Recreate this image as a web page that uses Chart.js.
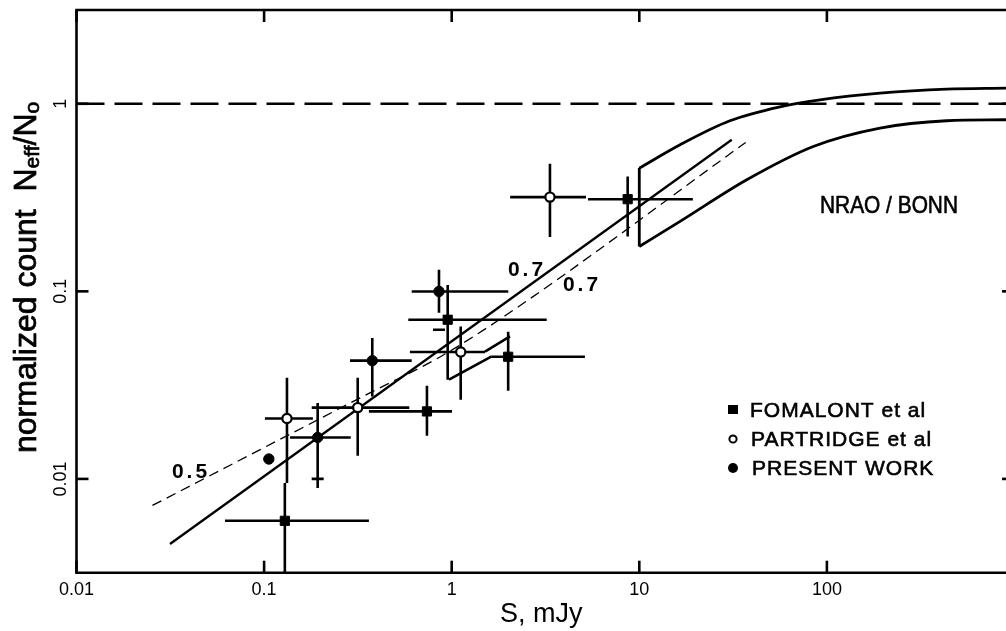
<!DOCTYPE html>
<html><head><meta charset="utf-8">
<script src="https://cdn.jsdelivr.net/npm/chart.js@4.4.1/dist/chart.umd.min.js"></script>
<style>html,body{margin:0;padding:0;background:#fff;overflow:hidden}#wrap{width:1006px;height:631px;position:relative}</style>
</head><body><div id="wrap"><canvas id="c" width="1006" height="631"></canvas></div>
<script>
// ---- tick values / labels ----
const xTickValues = [0.01, 0.1, 1, 10, 100];
const xTickLabels = ['0.01', '0.1', '1', '10', '100'];
const yTickValues = [0.01, 0.1, 1];
const yTickLabels = ['0.01', '0.1', '1'];

// ---- FOMALONT et al (filled squares) ----
const fomalontX   = [0.129, 0.738, 0.952, 2.0, 8.67];
const fomalontY   = [0.00598, 0.0229, 0.0706, 0.0448, 0.310];
const fomalontXLo = [0.0619, 0.362, 0.587, 1.63, 5.33];
const fomalontXHi = [0.362, 1.004, 3.21, 5.13, 19.3];
const fomalontYLo = [0.003, 0.0170, 0.0338, 0.0295, 0.196];
const fomalontYHi = [0.0095, 0.0314, 0.108, 0.0609, 0.410];

// ---- PARTRIDGE et al (open circles) ----
const partridgeX   = [0.1324, 0.3155, 1.117, 3.34];
const partridgeY   = [0.0210, 0.0240, 0.0475, 0.318];
const partridgeXLo = [0.101, 0.1794, 0.599, 2.05];
const partridgeXHi = [0.182, 0.594, 1.505, 5.20];
const partridgeYLo = [0.0095, 0.0133, 0.0264, 0.195];
const partridgeYHi = [0.0346, 0.0346, 0.065, 0.479];

// ---- PRESENT WORK (filled circles) ----
const presentX   = [0.106, 0.193, 0.3773, 0.8555];
const presentY   = [0.01277, 0.01664, 0.0427, 0.0999];
const presentXLo = [null, 0.1375, 0.287, 0.612];
const presentXHi = [null, 0.2896, 0.612, 2.003];
const presentYLo = [null, 0.00894, 0.0275, 0.0769];
const presentYHi = [null, 0.02538, 0.0564, 0.1303];
const presentCapX = [0.193, 0.8555];
const presentCapY = [0.0100, 0.0624];

// ---- slope lines ----
const fitX = [0.0315, 31.1];
const fitY = [0.0045, 0.643];
const modelX = [0.0254, 0.38, 0.866, 1.96, 36.9];
const modelY = [0.00722, 0.0293, 0.0447, 0.075, 0.622];

// ---- Partridge slope range wedge ----
const wedgeUpperX = [1.505, 2.046];
const wedgeUpperY = [0.0477, 0.0575];
const wedgeLowerX = [0.967, 1.634];
const wedgeLowerY = [0.0338, 0.045];

// ---- NRAO / BONN envelope ----
const nraoUpperX = [10, 16.5, 30.4, 56.2, 91.9, 191.9, 435, 901];
const nraoUpperY = [0.454, 0.605, 0.812, 0.964, 1.050, 1.140, 1.198, 1.213];
const nraoLowerX = [10, 16.5, 37.4, 84.6, 191.9, 435, 901];
const nraoLowerY = [0.1735, 0.236, 0.3935, 0.592, 0.742, 0.812, 0.822];
const nraoEdgeX = [10, 10];
const nraoEdgeY = [0.1735, 0.454];

// ---- unity reference ----
const unityX = [0.01, 901];
const unityY = [1, 1];

const FONT = '"Liberation Sans", Arial, Helvetica, sans-serif';
const zip = (xs, ys) => xs.map((x, i) => ({x: x, y: ys[i]}));
const lineDs = (label, xs, ys, extra) => Object.assign({
  label: label, data: zip(xs, ys), showLine: true, pointRadius: 0,
  borderColor: '#000', borderWidth: 2.6, backgroundColor: '#000', fill: false
}, extra || {});

const overlay = {
  id: 'overlay',
  beforeDatasetsDraw(chart) {
    const ctx = chart.ctx, sx = chart.scales.x, sy = chart.scales.y, a = chart.chartArea;
    ctx.save();
    ctx.beginPath(); ctx.rect(a.left, a.top, a.right - a.left, a.bottom - a.top); ctx.clip();
    ctx.strokeStyle = '#000'; ctx.lineWidth = 2.6; ctx.lineCap = 'butt';
    const bars = (xs, ys, xl, xh, yl, yh) => {
      xs.forEach((v, i) => {
        const px = sx.getPixelForValue(v), py = sy.getPixelForValue(ys[i]);
        if (xl[i] != null) {
          ctx.beginPath(); ctx.moveTo(sx.getPixelForValue(xl[i]), py); ctx.lineTo(sx.getPixelForValue(xh[i]), py); ctx.stroke();
        }
        if (yl[i] != null) {
          ctx.beginPath(); ctx.moveTo(px, sy.getPixelForValue(yl[i])); ctx.lineTo(px, sy.getPixelForValue(yh[i])); ctx.stroke();
        }
      });
    };
    bars(fomalontX, fomalontY, fomalontXLo, fomalontXHi, fomalontYLo, fomalontYHi);
    bars(partridgeX, partridgeY, partridgeXLo, partridgeXHi, partridgeYLo, partridgeYHi);
    bars(presentX, presentY, presentXLo, presentXHi, presentYLo, presentYHi);
    presentCapX.forEach((v, i) => {
      const px = sx.getPixelForValue(v), py = sy.getPixelForValue(presentCapY[i]);
      ctx.beginPath(); ctx.moveTo(px - 6, py); ctx.lineTo(px + 6, py); ctx.stroke();
    });
    ctx.restore();
  },
  afterDraw(chart) {
    const ctx = chart.ctx, sx = chart.scales.x, sy = chart.scales.y, a = chart.chartArea;
    ctx.save();
    ctx.strokeStyle = '#000'; ctx.fillStyle = '#000'; ctx.lineWidth = 2.6; ctx.lineCap = 'square';
    // frame (right side lies beyond the picture)
    ctx.beginPath();
    ctx.moveTo(a.right + 4, a.top); ctx.lineTo(a.left, a.top); ctx.lineTo(a.left, a.bottom); ctx.lineTo(a.right + 4, a.bottom);
    ctx.stroke();
    ctx.lineCap = 'butt';
    const TL = 12;
    xTickValues.forEach(v => {
      const px = sx.getPixelForValue(v);
      ctx.beginPath(); ctx.moveTo(px, a.bottom); ctx.lineTo(px, a.bottom - TL); ctx.stroke();
      ctx.beginPath(); ctx.moveTo(px, a.top); ctx.lineTo(px, a.top + TL); ctx.stroke();
    });
    yTickValues.forEach(v => {
      const py = sy.getPixelForValue(v);
      ctx.beginPath(); ctx.moveTo(a.left, py); ctx.lineTo(a.left + TL, py); ctx.stroke();
      ctx.beginPath(); ctx.moveTo(a.right - 4, py); ctx.lineTo(a.right, py); ctx.stroke();
    });
    // rotated y tick labels
    ctx.font = '18px ' + FONT; ctx.textAlign = 'center'; ctx.textBaseline = 'middle';
    yTickValues.forEach((v, i) => {
      ctx.save(); ctx.translate(a.left - 15, sy.getPixelForValue(v)); ctx.rotate(-Math.PI / 2);
      ctx.fillText(yTickLabels[i], 0, 0); ctx.restore();
    });
    // y axis title with subscripts
    ctx.save();
    ctx.translate(36, 453); ctx.rotate(-Math.PI / 2);
    ctx.textAlign = 'left'; ctx.textBaseline = 'alphabetic';
    ctx.lineWidth = 0.7; ctx.strokeStyle = '#000';
    let tx = 0;
    const part = (t, f, dy) => { ctx.font = f; ctx.fillText(t, tx, dy); ctx.strokeText(t, tx, dy); tx += ctx.measureText(t).width; };
    const main = '32px ' + FONT, sub = '21px ' + FONT;
    part('normalized count  N', main, 0);
    part('eff', sub, 3);
    part('/N', main, 0);
    part('o', sub, 3);
    ctx.restore();
    // slope labels
    ctx.font = 'bold 21px ' + FONT; ctx.textAlign = 'center'; ctx.textBaseline = 'middle';
    ctx.letterSpacing = '3px';
    ctx.fillText('0.7', 527, 270);
    ctx.fillText('0.7', 582, 285);
    ctx.fillText('0.5', 191, 472);
    // NRAO / BONN
    ctx.letterSpacing = '0px';
    ctx.lineWidth = 0.6;
    ctx.save(); ctx.translate(889, 205); ctx.scale(0.87, 1);
    ctx.font = '24px ' + FONT; ctx.textAlign = 'center'; ctx.textBaseline = 'middle';
    ctx.fillText('NRAO / BONN', 0, 1); ctx.strokeText('NRAO / BONN', 0, 1);
    ctx.restore();
    // legend
    const lx = 733, rows = [410, 439, 468];
    ctx.fillRect(lx - 5, rows[0] - 5, 10, 9);
    ctx.lineWidth = 2; ctx.beginPath(); ctx.arc(lx, rows[1], 3.6, 0, Math.PI * 2);
    ctx.fillStyle = '#fff'; ctx.fill(); ctx.stroke(); ctx.fillStyle = '#000';
    ctx.beginPath(); ctx.arc(lx, rows[2], 5, 0, Math.PI * 2); ctx.fill();
    ctx.font = '21px ' + FONT; ctx.textAlign = 'left'; ctx.textBaseline = 'middle';
    ctx.letterSpacing = '1px'; ctx.lineWidth = 0.6;
    const legendText = (t, x, y) => { ctx.fillText(t, x, y); ctx.strokeText(t, x, y); };
    legendText('FOMALONT et al', 750, rows[0] + 1);
    legendText('PARTRIDGE et al', 751, rows[1] + 1);
    legendText('PRESENT WORK', 752, rows[2] + 1);
    ctx.restore();
  }
};

new Chart(document.getElementById('c'), {
  type: 'scatter',
  data: {
    datasets: [
      {label: 'FOMALONT et al', data: zip(fomalontX, fomalontY), pointStyle: 'rect', pointRadius: 6.5,
       backgroundColor: '#000', borderColor: '#000', borderWidth: 1},
      {label: 'PARTRIDGE et al', data: zip(partridgeX, partridgeY), pointStyle: 'circle', pointRadius: 4.6,
       backgroundColor: '#fff', borderColor: '#000', borderWidth: 2.2},
      {label: 'PRESENT WORK', data: zip(presentX, presentY), pointStyle: 'circle', pointRadius: 5.2,
       backgroundColor: '#000', borderColor: '#000', borderWidth: 1},
      lineDs('slope 0.7', fitX, fitY, {borderWidth: 2.3}),
      lineDs('slope 0.5-0.7', modelX, modelY, {borderWidth: 1.3, borderDash: [10, 6], cubicInterpolationMode: 'monotone'}),
      lineDs('wedge upper', wedgeUpperX, wedgeUpperY),
      lineDs('wedge lower', wedgeLowerX, wedgeLowerY),
      lineDs('NRAO upper', nraoUpperX, nraoUpperY, {cubicInterpolationMode: 'monotone', borderWidth: 2.8}),
      lineDs('NRAO lower', nraoLowerX, nraoLowerY, {cubicInterpolationMode: 'monotone', borderWidth: 2.8}),
      lineDs('NRAO edge', nraoEdgeX, nraoEdgeY, {borderWidth: 2.8}),
      lineDs('unity', unityX, unityY, {borderWidth: 2.6, borderDash: [28, 10]})
    ]
  },
  options: {
    responsive: false, animation: false, devicePixelRatio: 1,
    layout: {autoPadding: false, padding: {top: 10, right: 0, left: 0, bottom: 0}},
    plugins: {legend: {display: false}, tooltip: {enabled: false}},
    scales: {
      x: {
        type: 'logarithmic', min: 0.01, max: 901, position: 'bottom',
        afterBuildTicks: s => { s.ticks = xTickValues.map(v => ({value: v})); },
        afterFit: s => { s.height = 58.3; s.paddingLeft = 0; s.paddingRight = 0; },
        grid: {display: false, drawTicks: false}, border: {display: false},
        ticks: {font: {family: FONT, size: 18}, color: '#000', padding: 7, maxRotation: 0, minRotation: 0, autoSkip: false,
                callback: (v, i) => xTickLabels[i]},
        title: {display: true, text: 'S, mJy', font: {family: FONT, size: 27}, color: '#000', padding: {top: 0, bottom: 0}}
      },
      y: {
        type: 'logarithmic', min: 0.0031623, max: 3.1623, position: 'left',
        afterBuildTicks: s => { s.ticks = yTickValues.map(v => ({value: v})); },
        afterFit: s => { s.width = 76.5; s.paddingTop = 0; s.paddingBottom = 0; },
        grid: {display: false, drawTicks: false}, border: {display: false},
        ticks: {display: false}
      }
    }
  },
  plugins: [overlay]
});
</script>
</body></html>
